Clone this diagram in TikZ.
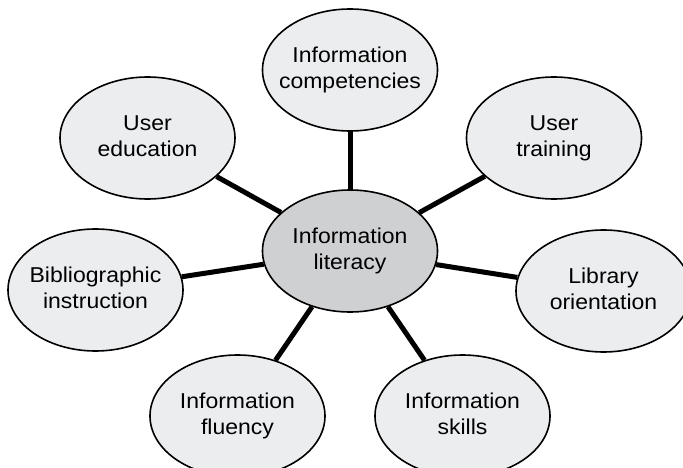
\documentclass[tikz,border=0pt]{standalone}
\usepackage{fontspec}
\setmainfont[FakeStretch=1.07]{Liberation Sans}
\usetikzlibrary{shapes.geometric}
\definecolor{outerfill}{RGB}{236,237,239}
\definecolor{centerfill}{RGB}{207,208,210}
\newcommand{\twolines}[2]{\makebox[0pt][c]{\begin{tabular}{@{}c@{}}#1\\#2\end{tabular}}}
\tikzset{
  bubble/.style={ellipse, draw=black, line width=1.6pt, fill=outerfill,
    minimum width=175pt, minimum height=122pt, inner sep=0pt,
    font=\fontsize{21.5}{26}\selectfont},
  hub/.style={bubble, fill=centerfill},
  spoke/.style={line width=5pt, black}
}
\begin{document}
\begin{tikzpicture}[x=1pt,y=-1pt]
\useasboundingbox (0,0) rectangle (683,468);
\node[hub] (c) at (350,251) {\twolines{Information}{literacy}};
\node[bubble] (top) at (350,70) {\twolines{Information}{competencies}};
\node[bubble] (ue) at (147.5,138) {\twolines{User}{education}};
\node[bubble] (ut) at (554,138) {\twolines{User}{training}};
\node[bubble] (bi) at (95.5,290) {\twolines{Bibliographic}{instruction}};
\node[bubble] (lo) at (603.5,291) {\twolines{Library}{orientation}};
\node[bubble] (fl) at (237.5,416) {\twolines{Information}{fluency}};
\node[bubble] (sk) at (462.5,416) {\twolines{Information}{skills}};
\foreach \n in {top,ue,ut,bi,lo,fl,sk}
  \draw[spoke] (c) -- (\n);
\end{tikzpicture}
\end{document}
